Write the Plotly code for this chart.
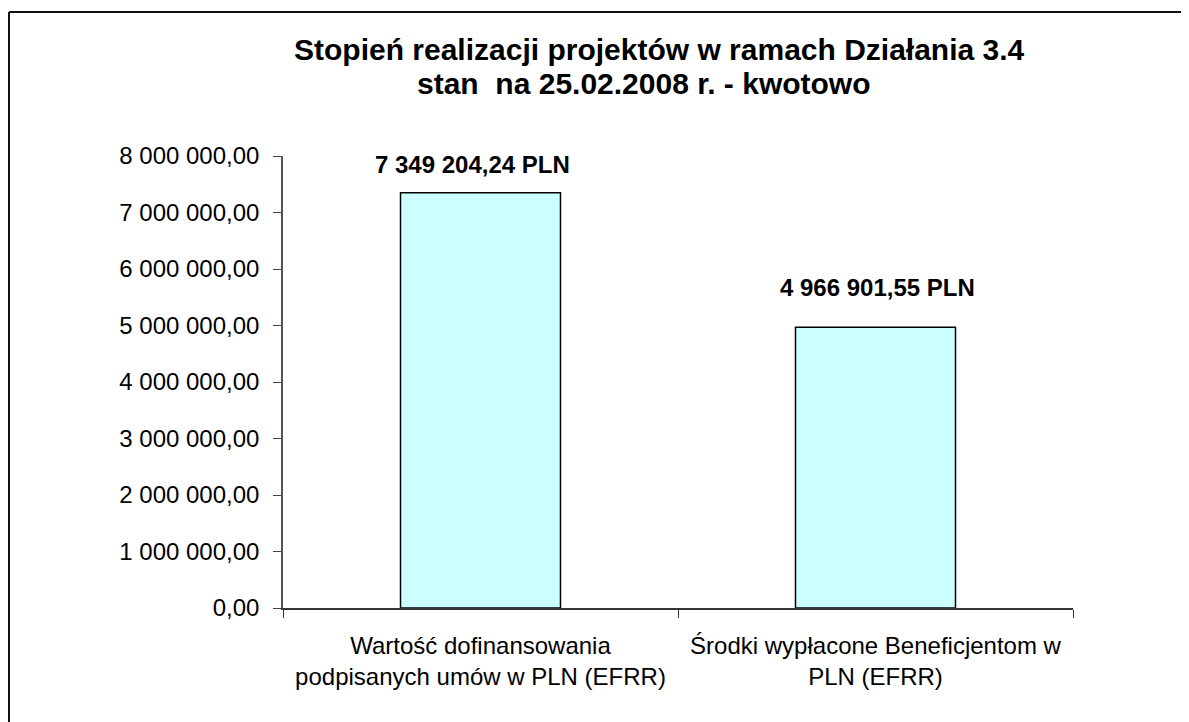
import plotly.graph_objects as go

categories = ["Wartość dofinansowania<br>podpisanych umów w PLN (EFRR)",
              "Środki wypłacone Beneficjentom w<br>PLN (EFRR)"]
values = [7349204.24, 4966901.55]
value_labels = ["7 349 204,24 PLN", "4 966 901,55 PLN"]
label_yshift = [28, 40]
label_xshift = [-8, 2]
tick_vals = [0, 1000000, 2000000, 3000000, 4000000, 5000000, 6000000, 7000000, 8000000]
tick_text = ["0,00", "1 000 000,00", "2 000 000,00", "3 000 000,00", "4 000 000,00",
             "5 000 000,00", "6 000 000,00", "7 000 000,00", "8 000 000,00"]
title_lines = ["Stopień realizacji projektów w ramach Działania 3.4",
               "stan&nbsp; na 25.02.2008 r. - kwotowo"]

FONT = "Liberation Sans, Arial, sans-serif"
OFF = 8  # page body margin
W, H = 1189 - OFF, 722 - OFF
# plot area in screen pixels: x 283..1073, y 156..608
L, R = 283 - OFF, W - (1073 - OFF)
T, B = 156 - OFF, H - (608 - OFF)

fig = go.Figure()
fig.add_trace(go.Bar(
    x=categories, y=values, width=0.405,
    marker=dict(color="#CCFFFF", line=dict(color="#000000", width=1.5)),
    hoverinfo="skip",
))

for c, v, t, ys, xs in zip(categories, values, value_labels, label_yshift, label_xshift):
    fig.add_annotation(x=c, y=v, text="<b>" + t + "</b>", showarrow=False,
                       yshift=ys, xshift=xs, yanchor="middle",
                       font=dict(family=FONT, size=24, color="#000000"))

pw = W - L - R
ph = H - T - B
px_ = lambda x: (x - OFF - L) / pw
py_ = lambda y: (H - B - (y - OFF)) / ph

# title lines
for txt, cx, cy in zip(title_lines, [659, 644], [50, 84]):
    fig.add_annotation(xref="paper", yref="paper", x=px_(cx), y=py_(cy),
                       text="<b>" + txt + "</b>", showarrow=False,
                       xanchor="center", yanchor="middle",
                       font=dict(family=FONT, size=30, color="#000000"))

# outer chart-area border (top and left edges visible)
fig.add_shape(type="line", xref="paper", yref="paper",
              x0=px_(OFF + 1), x1=px_(1200), y0=py_(12), y1=py_(12),
              line=dict(color="#111111", width=2))
fig.add_shape(type="line", xref="paper", yref="paper",
              x0=px_(OFF + 1), x1=px_(OFF + 1), y0=py_(12), y1=py_(730),
              line=dict(color="#111111", width=2))

fig.update_layout(
    width=W, height=H,
    margin=dict(l=L, r=R, t=T, b=B, autoexpand=False),
    paper_bgcolor="white", plot_bgcolor="white",
    showlegend=False,
    font=dict(family=FONT, color="#000000"),
    xaxis=dict(type="category", tickson="boundaries", ticks="outside", ticklen=8,
               tickcolor="#333333", showline=True, linecolor="#333333", linewidth=1.5,
               showgrid=False, tickfont=dict(family=FONT, size=24, color="#000000"),
               ticklabelstandoff=15, fixedrange=True),
    yaxis=dict(range=[0, 8000000], tickvals=tick_vals, ticktext=tick_text,
               ticks="outside", ticklen=8, tickcolor="#444444",
               showline=True, linecolor="#555555", linewidth=1.5,
               showgrid=False, zeroline=False,
               tickfont=dict(family=FONT, size=24, color="#000000"),
               ticklabelstandoff=9, fixedrange=True),
)

fig.write_html("out.html")
